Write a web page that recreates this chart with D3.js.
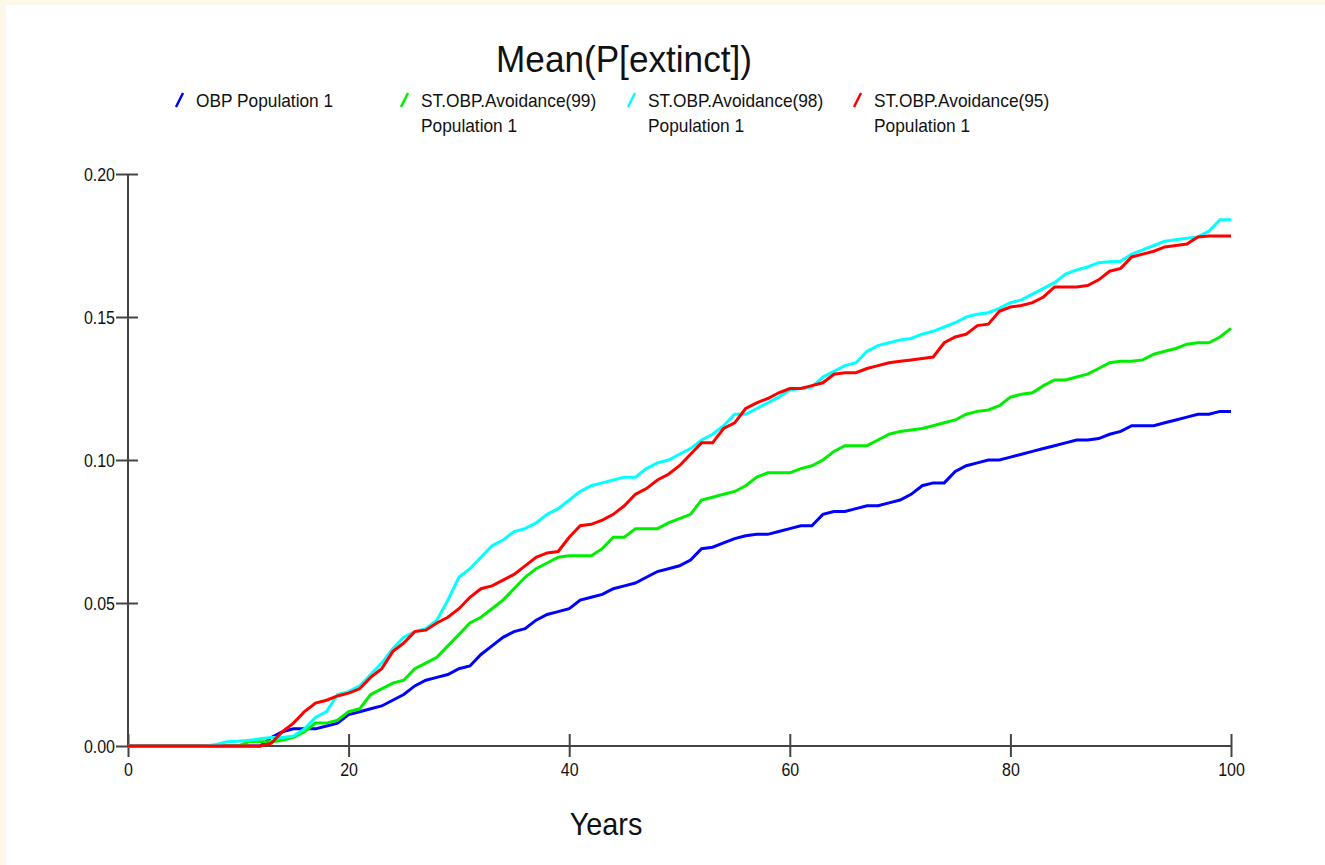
<!DOCTYPE html>
<html>
<head>
<meta charset="utf-8">
<script src="https://cdn.jsdelivr.net/npm/d3@7"></script>
<style>
  body { margin: 0; background: #fff; }
  svg text { font-family: Arial, "Liberation Sans", sans-serif; fill: #111; }
</style>
</head>
<body>
<svg id="chart" width="1325" height="865"></svg>
<script>
// years 0..100, one value per year
const years = d3.range(0, 101);

const obp = [0,0,0,0,0,0,0,0,0,0, 0,0,0,0.003,0.005,0.006,0.006,0.006,0.007,0.008,
  0.011,0.012,0.013,0.014,0.016,0.018,0.021,0.023,0.024,0.025,
  0.027,0.028,0.032,0.035,0.038,0.040,0.041,0.044,0.046,0.047,
  0.048,0.051,0.052,0.053,0.055,0.056,0.057,0.059,0.061,0.062,
  0.063,0.065,0.069,0.0695,0.071,0.0725,0.0735,0.074,0.074,0.075,
  0.076,0.077,0.077,0.081,0.082,0.082,0.083,0.084,0.084,0.085,
  0.086,0.088,0.091,0.092,0.092,0.096,0.098,0.099,0.100,0.100,
  0.101,0.102,0.103,0.104,0.105,0.106,0.107,0.107,0.1075,0.109,
  0.110,0.112,0.112,0.112,0.113,0.114,0.115,0.116,0.116,0.117,0.117];

const avoid99 = [0,0,0,0,0,0,0,0,0,0, 0,0.0015,0.0015,0.0015,0.002,0.003,0.005,0.008,0.008,0.009,
  0.012,0.013,0.018,0.020,0.022,0.023,0.027,0.029,0.031,0.035,
  0.039,0.043,0.045,0.048,0.051,0.055,0.059,0.062,0.064,0.066,
  0.0665,0.0665,0.0665,0.069,0.073,0.073,0.076,0.076,0.076,0.078,
  0.0795,0.081,0.086,0.087,0.088,0.089,0.091,0.094,0.0955,0.0955,
  0.0955,0.097,0.098,0.100,0.103,0.105,0.105,0.105,0.107,0.109,
  0.110,0.1105,0.111,0.112,0.113,0.114,0.116,0.117,0.1175,0.119,
  0.122,0.123,0.1235,0.126,0.128,0.128,0.129,0.130,0.132,0.134,
  0.1345,0.1345,0.135,0.137,0.138,0.139,0.1405,0.141,0.141,0.143,0.146];

const avoid98 = [0,0,0,0,0,0,0,0,0.0005,0.0015, 0.0017,0.002,0.0025,0.003,0.003,0.0035,0.006,0.010,0.012,0.018,
  0.019,0.021,0.025,0.029,0.034,0.038,0.040,0.041,0.044,0.051,
  0.059,0.062,0.066,0.070,0.072,0.075,0.076,0.078,0.081,0.083,
  0.086,0.089,0.091,0.092,0.093,0.094,0.094,0.097,0.099,0.100,
  0.102,0.104,0.107,0.109,0.112,0.116,0.116,0.118,0.120,0.122,
  0.1245,0.125,0.1255,0.129,0.131,0.133,0.134,0.138,0.140,0.141,
  0.142,0.1425,0.144,0.145,0.1465,0.148,0.150,0.151,0.1515,0.153,
  0.155,0.156,0.158,0.160,0.162,0.165,0.1665,0.1675,0.169,0.1693,
  0.1695,0.172,0.1735,0.175,0.1765,0.177,0.1775,0.178,0.180,0.184,0.184];

const avoid95 = [0,0,0,0,0,0,0,0,0,0, 0,0,0,0.001,0.005,0.008,0.012,0.015,0.016,0.0175,
  0.0185,0.020,0.024,0.027,0.033,0.036,0.040,0.0405,0.043,0.045,
  0.048,0.052,0.055,0.056,0.058,0.060,0.063,0.066,0.0675,0.068,
  0.073,0.077,0.0775,0.079,0.081,0.084,0.088,0.090,0.093,0.095,
  0.098,0.102,0.106,0.106,0.111,0.113,0.118,0.120,0.1215,0.1235,
  0.125,0.125,0.126,0.127,0.130,0.1305,0.1305,0.132,0.133,0.134,
  0.1345,0.135,0.1355,0.136,0.141,0.143,0.144,0.147,0.1475,0.152,
  0.1535,0.154,0.155,0.157,0.1605,0.1605,0.1605,0.161,0.163,0.166,
  0.167,0.171,0.172,0.173,0.1745,0.175,0.1755,0.178,0.1783,0.1783,0.1783];

const seriesNames = [["OBP Population  1"], ["ST.OBP.Avoidance(99)", "Population  1"],
  ["ST.OBP.Avoidance(98)", "Population  1"], ["ST.OBP.Avoidance(95)", "Population  1"]];
const seriesValues = [obp, avoid99, avoid98, avoid95];
const seriesColors = ["#0000ff", "#00ee00", "#00ffff", "#ff0000"];

const xTicks = [0, 20, 40, 60, 80, 100];
const yTicks = [0, 0.05, 0.10, 0.15, 0.20];

const svg = d3.select("#chart");

// shrink text horizontally, the original font is a narrow one
function condense(sel, k) {
  sel.each(function() {
    const w = this.getComputedTextLength();
    d3.select(this).attr("textLength", w * k).attr("lengthAdjust", "spacingAndGlyphs");
  });
}

// cream page border on top and left
svg.append("rect").attr("x", 0).attr("y", 0).attr("width", 1325).attr("height", 5).attr("fill", "#fcf7e8");
svg.append("rect").attr("x", 0).attr("y", 0).attr("width", 6).attr("height", 865).attr("fill", "#fcf7e8");

const x = d3.scaleLinear().domain([0, 100]).range([128, 1231]);
const y = d3.scaleLinear().domain([0, 0.20]).range([746, 174]);

// title
svg.append("text")
  .attr("x", 624).attr("y", 72)
  .attr("text-anchor", "middle")
  .style("font-size", "37px")
  .text("Mean(P[extinct])")
  .call(condense, 0.95);

// legend
const legendX = [178, 403, 630, 856];
seriesNames.forEach((lines, i) => {
  const g = svg.append("g").attr("transform", `translate(${legendX[i]},0)`);
  g.append("line")
    .attr("x1", -2).attr("y1", 107).attr("x2", 5).attr("y2", 93)
    .attr("stroke", seriesColors[i]).attr("stroke-width", 2.5);
  lines.forEach((t, j) => {
    g.append("text")
      .attr("x", 18).attr("y", 107 + j * 25)
      .style("font-size", "19px")
      .text(t)
      .call(condense, 0.91);
  });
});

// axes
const yAxis = svg.append("g")
  .attr("transform", "translate(128,0)")
  .call(d3.axisLeft(y).tickValues(yTicks).tickFormat(d3.format(".2f")).tickSize(12).tickPadding(1));
yAxis.selectAll(".tick line").attr("x2", -12).attr("x1", 10);

const xAxis = svg.append("g")
  .attr("transform", "translate(0,746)")
  .call(d3.axisBottom(x).tickValues(xTicks).tickSize(12).tickPadding(5));
xAxis.selectAll(".tick line").attr("y1", -12).attr("y2", 11);

svg.selectAll(".domain").attr("stroke", "#444").attr("stroke-width", 2);
svg.selectAll(".tick line").attr("stroke", "#444").attr("stroke-width", 2);
yAxis.select(".domain").attr("d", "M0,174V746");
xAxis.select(".domain").attr("d", "M128,0H1231");
svg.selectAll(".tick text")
  .style("font-size", "19px").style("font-family", "Arial, 'Liberation Sans', sans-serif").attr("fill", "#111")
  .call(condense, 0.84);

// x axis title
svg.append("text")
  .attr("x", 606).attr("y", 835)
  .attr("text-anchor", "middle")
  .style("font-size", "32px")
  .text("Years")
  .call(condense, 0.9);

// lines
const line = d3.line()
  .x((d, i) => x(years[i]))
  .y(d => y(d));

seriesValues.forEach((vals, i) => {
  svg.append("path")
    .datum(vals)
    .attr("fill", "none")
    .attr("stroke", seriesColors[i])
    .attr("stroke-width", 3)
    .attr("d", line);
});
</script>
</body>
</html>
